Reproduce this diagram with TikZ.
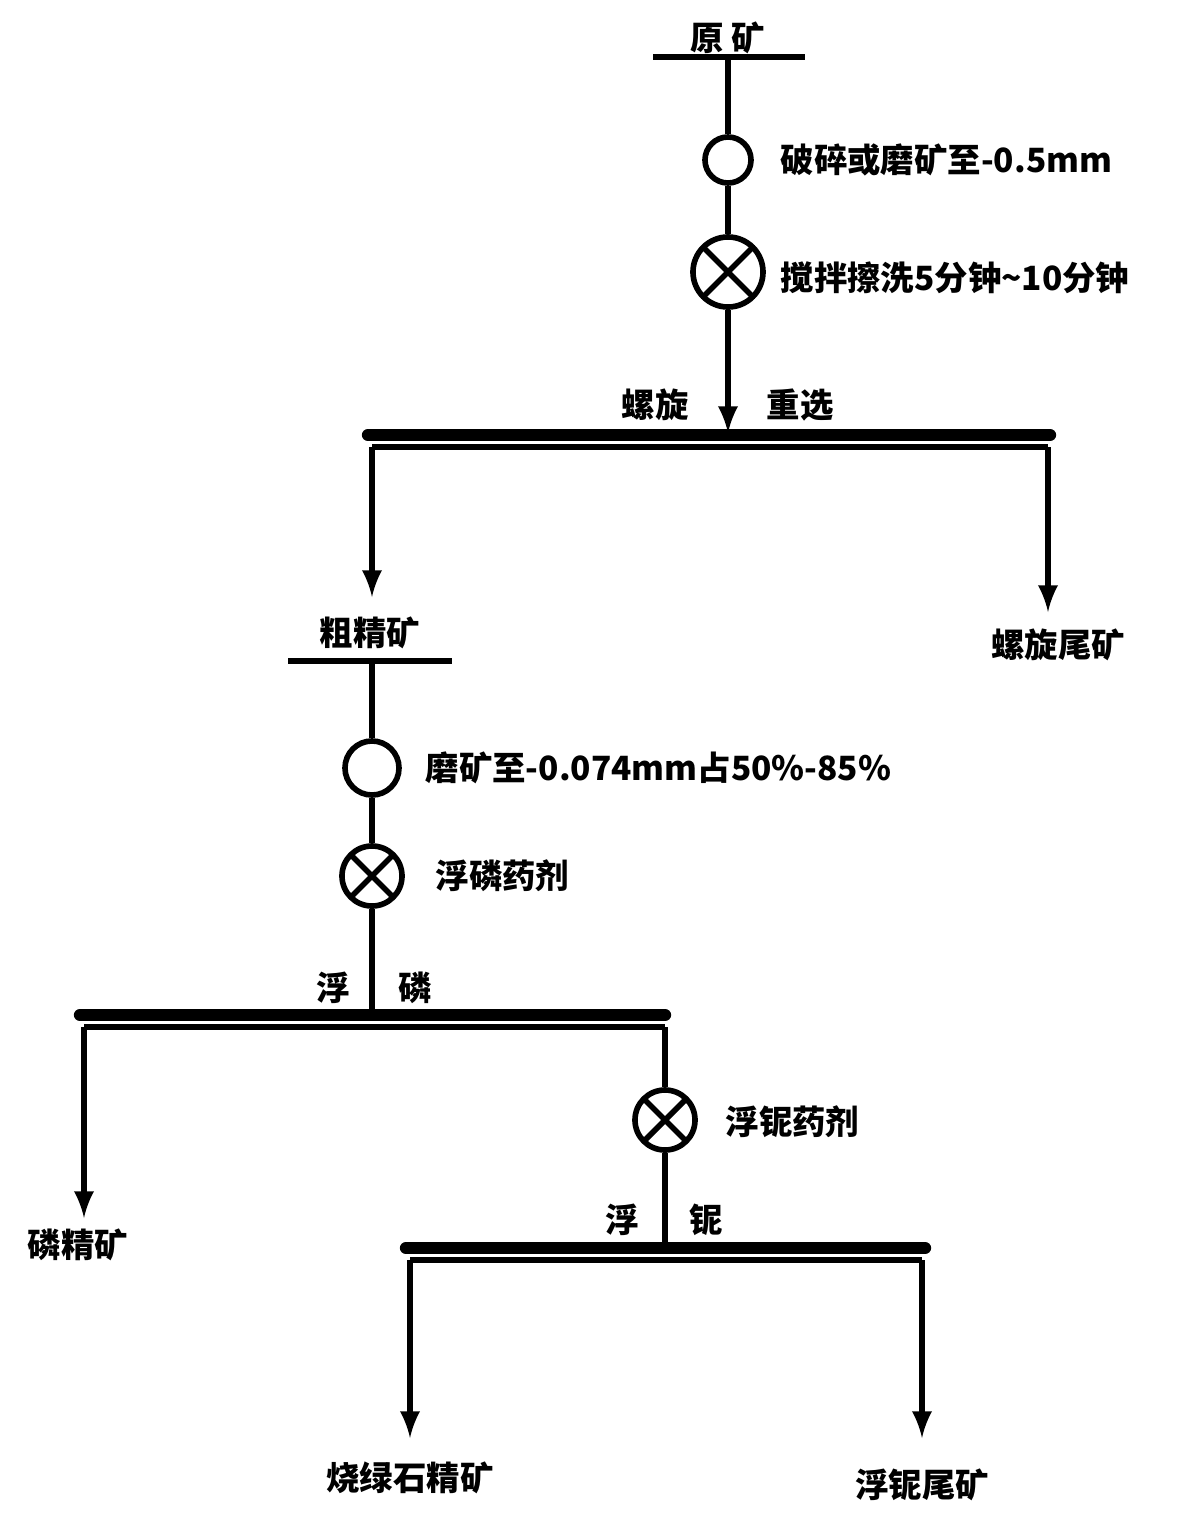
\documentclass[tikz,border=0pt]{standalone}
\usepackage{fontspec}
\setmainfont{Noto Sans CJK SC}
\usetikzlibrary{calc}
\usetikzlibrary{positioning}
\newcommand{\lineColor}{black}
\tikzset{flow/.style = {\lineColor, line width=1.6pt}}
\tikzset{arr/.style = {flow, -latex}}
\tikzset{bar/.style = {\lineColor, line width=3.5pt, line cap=round}}
\tikzset{txt/.style = {font=\fontsize{9.5}{11}\selectfont\bfseries, inner sep=0pt}}
\tikzset{mill/.style = {draw=\lineColor, line width=1.6pt, circle, minimum size=0.46cm, inner sep=0pt}}
\tikzset{mixer/.style = {draw=\lineColor, line width=1.6pt, circle, cross out, minimum size=0.62cm}}
\tikzset{mixbox/.style = {draw=\lineColor, line width=1.6pt, circle, minimum size=#1, inner sep=0pt}}
\begin{document}
\begin{tikzpicture}[x=0.01cm,y=-0.01cm]
                    \useasboundingbox (0,0) rectangle (1200,1518);
                    % feed
                    \node[txt] (feed) at (728,38) {原\ 矿};
                    \draw[flow] (653,57) -- (805,57);
                    \coordinate (f0) at (728,57);
                    \node[mixbox=0.46cm] (m1) at (728,160) {};
                    \node[txt, anchor=west] (m1l) at (780,160) {破碎或磨矿至-0.5mm};
                    \node[mixbox=0.7cm] (s1) at (728,272) {};
                    \draw[flow] ($(s1)+(-24,-24)$) -- ($(s1)+(24,24)$);
                    \draw[flow] ($(s1)+(-24,24)$) -- ($(s1)+(24,-24)$);
                    \node[txt, anchor=west] (s1l) at (780,278) {搅拌擦洗5分钟\textasciitilde10分钟};
                    \coordinate (b1) at (728,433);
                    \draw[flow] (f0) -- (m1);
                    \draw[flow] (m1) -- (s1);
                    \draw[arr] (s1) -- (b1);
                    \node[txt] at (655,405) {螺旋};
                    \node[txt] at (800,405) {重选};
                    % spiral
                    \draw[bar] (368,435) -- (1050,435);
                    \draw[flow] (372,447) -- (1048,447);
                    \coordinate (b1l) at (372,447);
                    \coordinate (b1r) at (1048,447);
                    \node[txt] (rc) at (370,633) {粗精矿};
                    \node[txt] (st) at (1058,645) {螺旋尾矿};
                    \draw[arr] (b1l) -- (372,597);
                    \draw[arr] (b1r) -- (1048,612);
                    \draw[flow] (288,661) -- (452,661);
                    \coordinate (r0) at (372,661);
                    % phosphate flotation
                    \node[mixbox=0.54cm] (m2) at (372,768) {};
                    \node[txt, anchor=west] at (425,768) {磨矿至-0.074mm占50\%-85\%};
                    \node[mixbox=0.6cm] (s2) at (372,876) {};
                    \draw[flow] ($(s2)+(-21,-21)$) -- ($(s2)+(21,21)$);
                    \draw[flow] ($(s2)+(-21,21)$) -- ($(s2)+(21,-21)$);
                    \node[txt, anchor=west] at (435,876) {浮磷药剂};
                    \coordinate (b2) at (372,1013);
                    \draw[flow] (r0) -- (m2);
                    \draw[flow] (m2) -- (s2);
                    \draw[flow] (s2) -- (b2);
                    \node[txt] at (333,988) {浮};
                    \node[txt] at (415,988) {磷};
                    \draw[bar] (80,1015) -- (665,1015);
                    \draw[flow] (84,1027) -- (665,1027);
                    \coordinate (b2l) at (84,1027);
                    \coordinate (b2r) at (665,1027);
                    \node[txt] (pc) at (78,1245) {磷精矿};
                    \draw[arr] (b2l) -- (84,1218);
                    % niobium flotation
                    \node[mixbox=0.6cm] (s3) at (665,1120) {};
                    \draw[flow] ($(s3)+(-21,-21)$) -- ($(s3)+(21,21)$);
                    \draw[flow] ($(s3)+(-21,21)$) -- ($(s3)+(21,-21)$);
                    \node[txt, anchor=west] at (725,1122) {浮铌药剂};
                    \coordinate (b3) at (665,1246);
                    \draw[flow] (b2r) -- (s3);
                    \draw[flow] (s3) -- (b3);
                    \node[txt] at (622,1220) {浮};
                    \node[txt] at (706,1220) {铌};
                    \draw[bar] (406,1248) -- (925,1248);
                    \draw[flow] (410,1260) -- (922,1260);
                    \coordinate (b3l) at (410,1260);
                    \coordinate (b3r) at (922,1260);
                    \node[txt] (nc) at (410,1478) {烧绿石精矿};
                    \node[txt] (nt) at (922,1485) {浮铌尾矿};
                    \draw[arr] (b3l) -- (410,1438);
                    \draw[arr] (b3r) -- (922,1438);
                \end{tikzpicture}
\end{document}
